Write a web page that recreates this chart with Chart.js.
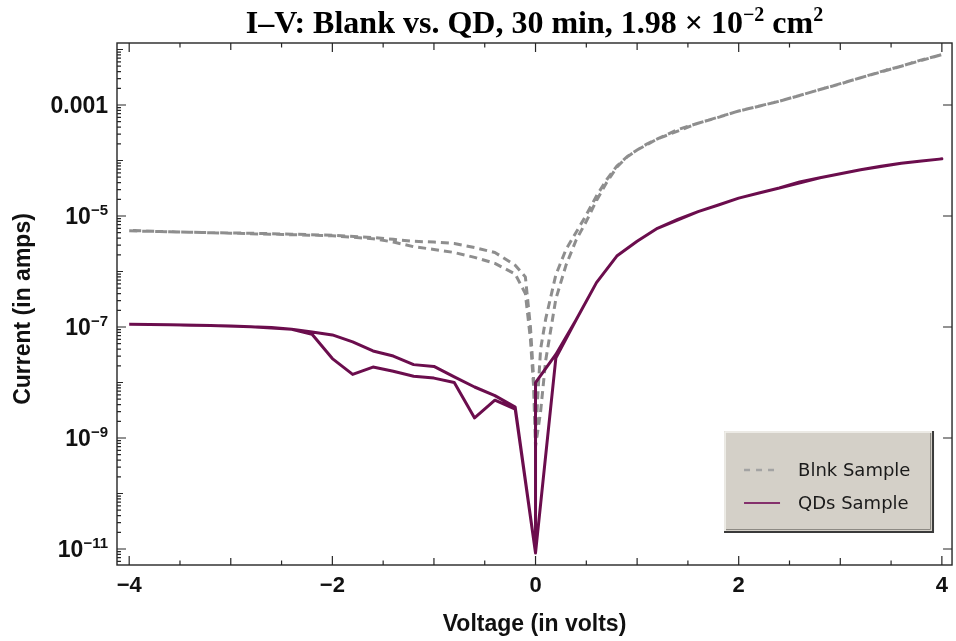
<!DOCTYPE html>
<html>
<head>
<meta charset="utf-8">
<title>I–V: Blank vs. QD</title>
<script src="https://cdn.jsdelivr.net/npm/chart.js@4.4.0/dist/chart.umd.min.js"></script>
<style>
  html, body { margin: 0; padding: 0; background: #fff; }
  #wrap { position: relative; width: 956px; height: 641px; }
</style>
</head>
<body>
<div id="wrap"><canvas id="ivChart"></canvas></div>
<script>
// blank device, sweep from -4 V up to +4 V
const blankVoltsUp = [-4, -3.6, -3.2, -2.8, -2.4, -2, -1.6, -1.4, -1.2, -1, -0.8, -0.6, -0.4, -0.2, -0.1, -0.05, -0.02, 0,
  0.02, 0.05, 0.1, 0.2, 0.3, 0.4, 0.5, 0.6, 0.7, 0.8, 0.9, 1, 1.1, 1.2, 1.4, 1.6, 1.8, 2, 2.2, 2.4, 2.6, 2.8, 3, 3.2, 3.4, 3.6, 3.8, 4];
const blankAmpsUp = [5.4e-6, 5.2e-6, 5.0e-6, 4.9e-6, 4.7e-6, 4.5e-6, 4.1e-6, 3.8e-6, 3.5e-6, 3.4e-6, 3.2e-6, 2.7e-6, 2.2e-6, 1.3e-6, 8e-7, 1e-7, 1.3e-8, 7e-10,
  5e-9, 4e-8, 1.4e-7, 8.7e-7, 2.5e-6, 5.1e-6, 1.05e-5, 2.3e-5, 4.5e-5, 7.9e-5, 1.17e-4, 1.55e-4, 2.0e-4, 2.45e-4, 3.6e-4, 4.7e-4, 6e-4, 7.8e-4, 9.5e-4, 1.17e-3, 1.48e-3, 1.9e-3, 2.4e-3, 3.1e-3, 4e-3, 5e-3, 6.5e-3, 8.1e-3];

// blank device, return sweep +4 V back to -4 V
const blankVoltsDown = [4, 3.6, 3.2, 2.8, 2.4, 2, 1.6, 1.2, 1, 0.9, 0.8, 0.7, 0.6, 0.5, 0.4, 0.3, 0.2, 0.1, 0.05, 0,
  -0.02, -0.05, -0.1, -0.2, -0.4, -0.6, -0.8, -1, -1.2, -1.4, -1.6, -2, -2.4, -2.8, -3.2, -3.6, -4];
const blankAmpsDown = [8.1e-3, 5e-3, 3.1e-3, 1.9e-3, 1.17e-3, 7.8e-4, 4.7e-4, 2.45e-4, 1.55e-4, 1.15e-4, 7.6e-5, 4e-5, 1.9e-5, 8e-6, 3.7e-6, 1.3e-6, 3.2e-7, 2.5e-8, 3e-9, 7e-10,
  9e-9, 6e-8, 4e-7, 9e-7, 1.4e-6, 1.8e-6, 2.2e-6, 2.5e-6, 2.8e-6, 3.4e-6, 3.9e-6, 4.4e-6, 4.6e-6, 4.8e-6, 5.0e-6, 5.2e-6, 5.5e-6];

// quantum-dot device, sweep up
const qdVoltsUp = [-4, -3.8, -3.6, -3.4, -3.2, -3, -2.8, -2.6, -2.4, -2.2, -2, -1.8, -1.6, -1.4, -1.2, -1, -0.8, -0.6, -0.4, -0.2, 0,
  0.2, 0.4, 0.6, 0.8, 1, 1.2, 1.4, 1.6, 1.8, 2, 2.2, 2.4, 2.6, 2.8, 3, 3.2, 3.4, 3.6, 3.8, 4];
const qdAmpsUp = [1.12e-7, 1.11e-7, 1.10e-7, 1.08e-7, 1.06e-7, 1.04e-7, 1.01e-7, 9.8e-8, 9.1e-8, 8.1e-8, 7.2e-8, 5.4e-8, 3.7e-8, 3.0e-8, 2.1e-8, 1.95e-8, 1.26e-8, 8.3e-9, 5.8e-9, 3.6e-9, 8.5e-12,
  2.75e-8, 1.35e-7, 6.3e-7, 1.9e-6, 3.5e-6, 6.0e-6, 8.7e-6, 1.2e-5, 1.58e-5, 2.1e-5, 2.6e-5, 3.2e-5, 4.1e-5, 4.9e-5, 5.8e-5, 6.8e-5, 7.9e-5, 8.9e-5, 9.8e-5, 1.07e-4];

// quantum-dot device, sweep down
const qdVoltsDown = [4, 3.6, 3.2, 2.8, 2.4, 2, 1.6, 1.2, 1, 0.8, 0.6, 0.4, 0.2, 0, 0,
  -0.2, -0.4, -0.6, -0.8, -1, -1.2, -1.4, -1.6, -1.8, -2, -2.2, -2.4, -2.8, -3.2, -3.6, -4];
const qdAmpsDown = [1.07e-4, 8.9e-5, 6.8e-5, 4.9e-5, 3.2e-5, 2.1e-5, 1.2e-5, 6.0e-6, 3.5e-6, 1.9e-6, 6.3e-7, 1.35e-7, 3.2e-8, 1e-8, 8.5e-12,
  3.3e-9, 4.8e-9, 2.3e-9, 1.0e-8, 1.2e-8, 1.3e-8, 1.6e-8, 1.9e-8, 1.4e-8, 2.7e-8, 7.4e-8, 9.1e-8, 1.01e-7, 1.06e-7, 1.10e-7, 1.12e-7];

const voltTicks = [-4, -2, 0, 2, 4];
const ampTicks = [1e-11, 1e-9, 1e-7, 1e-5, 1e-3];
const seriesNames = ['Blnk Sample', 'QDs Sample'];

const SANS = '"Liberation Sans", Arial, sans-serif';
const SERIF = '"Liberation Serif", "Times New Roman", serif';

function pairs(xs, ys) {
  return xs.map((x, i) => ({ x: x, y: ys[i] }));
}

// text runs with raised, smaller superscript pieces
function drawRuns(ctx, runs, cx, base, size, family, weight) {
  const supSize = Math.round(size * 0.62);
  let total = 0;
  runs.forEach(r => {
    ctx.font = `${weight} ${r.sup ? supSize : size}px ${family}`;
    r.w = ctx.measureText(r.t).width;
    total += r.w;
  });
  let xPos = cx - total / 2;
  ctx.textAlign = 'left';
  runs.forEach(r => {
    ctx.font = `${weight} ${r.sup ? supSize : size}px ${family}`;
    ctx.fillText(r.t, xPos, r.sup ? base - size * 0.38 : base);
    xPos += r.w;
  });
}

const framePlugin = {
  id: 'frame',
  afterDraw(chart) {
    const { ctx, chartArea: a } = chart;
    const x = chart.scales.x, y = chart.scales.y;
    ctx.save();

    // frame box
    ctx.strokeStyle = '#262626';
    ctx.lineWidth = 1.4;
    ctx.strokeRect(a.left, a.top, a.right - a.left, a.bottom - a.top);

    // inward ticks
    ctx.lineWidth = 1.2;
    ctx.beginPath();
    for (let v = -4; v <= 4; v += 0.5) {
      const px = x.getPixelForValue(v);
      const len = v % 2 === 0 ? 9 : (v % 1 === 0 ? 7 : 4.5);
      ctx.moveTo(px, a.bottom); ctx.lineTo(px, a.bottom - len);
      ctx.moveTo(px, a.top); ctx.lineTo(px, a.top + len);
    }
    for (let k = -12; k <= -1; k++) {
      for (let m = 1; m <= 9; m++) {
        const val = m * Math.pow(10, k);
        if (val < y.min || val > y.max) continue;
        const py = y.getPixelForValue(val);
        const major = m === 1 && Math.abs(k) % 2 === 1;
        const len = m === 1 ? (major ? 9 : 6) : 4;
        ctx.moveTo(a.left, py); ctx.lineTo(a.left + len, py);
        if (major) { ctx.moveTo(a.right, py); ctx.lineTo(a.right - len, py); }
      }
    }
    ctx.stroke();

    // y tick labels, powers of ten with superscript exponents
    ctx.fillStyle = '#111';
    ampTicks.forEach(val => {
      const py = y.getPixelForValue(val);
      const exp = Math.round(Math.log10(val));
      const right = a.left - 9;
      ctx.textAlign = 'right';
      if (exp >= -3) {
        ctx.font = `bold 23px ${SANS}`;
        ctx.fillText(val.toFixed(-exp), right, py + 8);
      } else {
        const sup = '\u2212' + Math.abs(exp);
        ctx.font = `bold 15px ${SANS}`;
        const sw = ctx.measureText(sup).width;
        ctx.fillText(sup, right, py - 1);
        ctx.font = `bold 23px ${SANS}`;
        ctx.fillText('10', right - sw, py + 8);
      }
    });

    // chart title
    ctx.fillStyle = '#000';
    drawRuns(ctx, [
      { t: 'I\u2013V: Blank vs. QD, 30 min, 1.98 \u00d7 10' },
      { t: '\u22122', sup: true },
      { t: ' cm' },
      { t: '2', sup: true }
    ], (a.left + a.right) / 2, 33, 32, SERIF, 'bold');

    // axis titles
    ctx.fillStyle = '#111';
    ctx.font = `bold 23px ${SANS}`;
    ctx.textAlign = 'center';
    ctx.fillText('Voltage (in volts)', (a.left + a.right) / 2, 631);
    ctx.save();
    ctx.translate(30, (a.top + a.bottom) / 2 + 5);
    ctx.rotate(-Math.PI / 2);
    ctx.fillText('Current (in amps)', 0, 0);
    ctx.restore();

    // legend panel
    const lx = a.right - 228, ly = a.bottom - 134, lw = 209, lh = 101;
    ctx.fillStyle = '#d4d0c8';
    ctx.fillRect(lx, ly, lw, lh);
    ctx.lineWidth = 1.5;
    ctx.strokeStyle = '#f3f2ee';
    ctx.beginPath();
    ctx.moveTo(lx + 1, ly + lh); ctx.lineTo(lx + 1, ly + 1); ctx.lineTo(lx + lw, ly + 1);
    ctx.stroke();
    ctx.strokeStyle = '#3a3a3a';
    ctx.lineWidth = 2;
    ctx.beginPath();
    ctx.moveTo(lx, ly + lh); ctx.lineTo(lx + lw, ly + lh); ctx.lineTo(lx + lw, ly);
    ctx.stroke();
    ctx.strokeStyle = '#8d8a84';
    ctx.lineWidth = 1;
    ctx.beginPath();
    ctx.moveTo(lx + 2, ly + lh - 2.5); ctx.lineTo(lx + lw - 2.5, ly + lh - 2.5); ctx.lineTo(lx + lw - 2.5, ly + 2);
    ctx.stroke();

    chart.data.datasets.forEach((ds, i) => {
      const ry = ly + 39 + i * 33;
      ctx.strokeStyle = i === 0 ? '#a3a3a3' : '#84306c';
      ctx.lineWidth = i === 0 ? 2.5 : 2;
      ctx.setLineDash(ds.borderDash && ds.borderDash.length ? [6, 6] : []);
      ctx.beginPath();
      ctx.moveTo(lx + 20, ry); ctx.lineTo(lx + 56, ry);
      ctx.stroke();
      ctx.setLineDash([]);
      ctx.fillStyle = '#1a1a1a';
      ctx.font = `18px "DejaVu Sans", ${SANS}`;
      ctx.textAlign = 'left';
      ctx.fillText(ds.label, lx + 74, ry + 6);
    });

    ctx.restore();
  }
};

new Chart(document.getElementById('ivChart'), {
  type: 'line',
  data: {
    datasets: [
      {
        label: seriesNames[0],
        data: pairs(blankVoltsUp.concat(blankVoltsDown), blankAmpsUp.concat(blankAmpsDown)),
        borderColor: '#8e8e8e',
        borderWidth: 3,
        borderDash: [8, 5],
        borderJoinStyle: 'round',
        pointRadius: 0,
        tension: 0,
        order: 2
      },
      {
        label: seriesNames[1],
        data: pairs(qdVoltsUp.concat(qdVoltsDown), qdAmpsUp.concat(qdAmpsDown)),
        borderColor: '#6b0d4d',
        borderWidth: 3,
        borderJoinStyle: 'round',
        pointRadius: 0,
        tension: 0,
        order: 1
      }
    ]
  },
  options: {
    responsive: true,
    maintainAspectRatio: false,
    animation: false,
    devicePixelRatio: 1,
    layout: { padding: { top: 43, right: 1, left: 0, bottom: 0 } },
    plugins: {
      legend: { display: false },
      tooltip: { enabled: false }
    },
    scales: {
      x: {
        type: 'linear',
        min: -4.12,
        max: 4.1,
        grid: { display: false, drawTicks: false },
        border: { display: false },
        afterBuildTicks: s => { s.ticks = voltTicks.map(v => ({ value: v })); },
        afterFit: s => { s.height = 76; },
        ticks: {
          padding: 8,
          color: '#111',
          maxRotation: 0,
          autoSkip: false,
          font: { family: SANS, size: 22, weight: 'bold' },
          callback: v => (v < 0 ? '\u2212' + Math.abs(v) : String(v))
        }
      },
      y: {
        type: 'logarithmic',
        min: 5.15e-12,
        max: 0.0131,
        grid: { display: false, drawTicks: false },
        border: { display: false },
        ticks: { display: false },
        afterFit: s => { s.width = 117; }
      }
    }
  },
  plugins: [framePlugin]
});
</script>
</body>
</html>
